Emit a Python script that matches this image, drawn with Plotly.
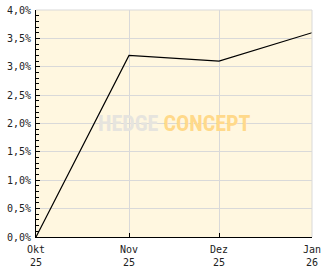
import plotly.graph_objects as go

dates = ["2025-10-01", "2025-11-01", "2025-12-01", "2026-01-01"]
values = [0.0, 3.2, 3.1, 3.6]
xtick_vals = ["2025-10-01", "2025-11-01", "2025-12-01", "2026-01-01"]
xtick_text = ["Okt<br>25", "Nov<br>25", "Dez<br>25", "Jan<br>26"]
ytick_vals = [0, 0.5, 1.0, 1.5, 2.0, 2.5, 3.0, 3.5, 4.0]
ytick_text = ["0,0%", "0,5%", "1,0%", "1,5%", "2,0%", "2,5%", "3,0%", "3,5%", "4,0%"]

fig = go.Figure()
fig.add_trace(go.Scatter(x=dates, y=values, mode="lines",
                         line=dict(color="black", width=1.2),
                         cliponaxis=False, hoverinfo="skip"))

font = dict(family="DejaVu Sans Mono", size=10, color="#222222")

fig.update_layout(
    width=332, height=269,
    margin=dict(l=36, r=20, t=10, b=32),
    paper_bgcolor="white",
    plot_bgcolor="#FFF7E0",
    showlegend=False,
    font=font,
    xaxis=dict(
        type="date",
        range=["2025-10-01", "2026-01-01"],
        tickvals=xtick_vals, ticktext=xtick_text,
        showgrid=True, gridcolor="#D9D9D9", gridwidth=1,
        showline=True, linecolor="black", linewidth=1,
        ticks="inside", ticklen=4, tickcolor="black",
        ticklabelstandoff=3,
        zeroline=False, automargin=False,
        tickfont=font, tickangle=0,
    ),
    yaxis=dict(
        range=[0, 4.0],
        tickvals=ytick_vals, ticktext=ytick_text,
        showgrid=True, gridcolor="#D9D9D9", gridwidth=1,
        showline=True, linecolor="black", linewidth=1,
        ticks="inside", ticklen=4, tickcolor="black",
        ticklabelstandoff=2,
        minor=dict(dtick=0.1, ticks="inside", ticklen=3, tickcolor="black", showgrid=False),
        zeroline=False, automargin=False,
        tickfont=font,
    ),
    annotations=[dict(
        x=0.5, y=0.5, xref="paper", yref="paper",
        text="<span style='color:#E6E4DE'>HEDGE</span> <span style='color:#FFD98A'>CONCEPT</span>",
        showarrow=False,
        font=dict(family="Roboto Condensed, Liberation Sans", size=22, weight="bold"),
        xanchor="center", yanchor="middle",
    )],
)
fig.add_shape(type="line", xref="paper", yref="paper", x0=0, x1=1, y0=1, y1=1,
              line=dict(color="#D9D9D9", width=1))
fig.add_shape(type="line", xref="paper", yref="paper", x0=1, x1=1, y0=0, y1=1,
              line=dict(color="#D9D9D9", width=1))

fig.write_html("out.html")
